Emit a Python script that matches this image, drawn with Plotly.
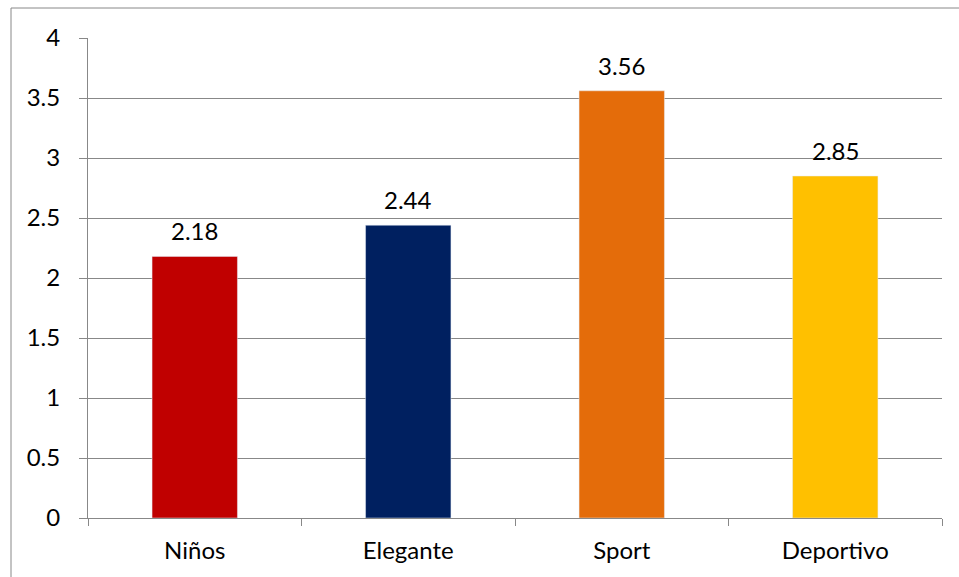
import plotly.graph_objects as go

categories = ["Niños", "Elegante", "Sport", "Deportivo"]
values = [2.18, 2.44, 3.56, 2.85]
colors = ["#C00000", "#002060", "#E46C0A", "#FFC000"]
y_ticks = [0, 0.5, 1, 1.5, 2, 2.5, 3, 3.5, 4]
y_tick_labels = ["0", "0.5", "1", "1.5", "2", "2.5", "3", "3.5", "4"]

W, H = 959, 577
L, R, T, B = 88, 17, 38, 59
pw, ph = W - L - R, H - T - B

fig = go.Figure(go.Bar(
    x=categories, y=values, marker_color=colors, width=0.4,
))

for c, v in zip(categories, values):
    fig.add_annotation(x=c, y=v, text=f"{v:.2f}", showarrow=False,
                       yanchor="bottom", yshift=9,
                       font=dict(size=24, color="#000000"))

font = "Lato, 'Open Sans', sans-serif"
fig.update_layout(
    width=W, height=H, margin=dict(l=L, r=R, t=T, b=B),
    paper_bgcolor="white", plot_bgcolor="white",
    font=dict(family=font, size=24, color="#000000"),
    showlegend=False,
    xaxis=dict(type="category", showline=True, linecolor="#888888", linewidth=1,
               ticks="outside", tickson="boundaries", ticklen=7, tickcolor="#888888",
               showgrid=False, ticklabelstandoff=11, tickfont=dict(size=24)),
    yaxis=dict(range=[0, 4], tickvals=y_ticks, ticktext=y_tick_labels,
               showline=True, linecolor="#888888", linewidth=1,
               ticks="outside", ticklen=8, tickcolor="#888888",
               showgrid=True, gridcolor="#888888", gridwidth=1, zeroline=False,
               ticklabelstandoff=14, tickfont=dict(size=24)),
    shapes=[dict(type="rect", xref="paper", yref="paper",
                 x0=(11 - L) / pw, x1=(W + 10 - L) / pw,
                 y0=-(H + 10 - T - ph) / ph, y1=1 + (T - 8) / ph,
                 line=dict(color="#888888", width=1), fillcolor="rgba(0,0,0,0)",
                 layer="below")],
)

fig.write_html("out.html")
